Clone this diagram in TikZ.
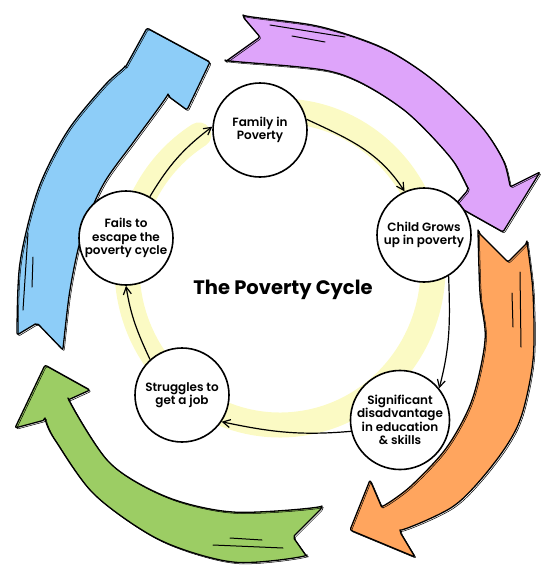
\documentclass[tikz,border=0pt]{standalone}
\usepackage{fontspec}
\setmainfont{Poppins}
\newfontfamily\stagefont{Poppins}[UprightFont={* SemiBold}]
\usetikzlibrary{arrows.meta,calc}

\definecolor{purplefill}{RGB}{222,164,250}
\definecolor{orangefill}{RGB}{255,165,94}
\definecolor{greenfill}{RGB}{156,205,100}
\definecolor{bluefill}{RGB}{141,205,248}
\definecolor{ringyellow}{RGB}{251,250,196}

\begin{document}
\begin{tikzpicture}[
  x=1pt, y=-1pt,
  stage/.style={
    circle,
    draw=black,
    line width=1.6pt,
    fill=white,
    minimum size=94pt,
    inner sep=0pt,
    align=center,
    font=\stagefont\fontsize{12}{13.5}\selectfont
  },
  band/.style={draw=black, line width=1.3pt, line join=round, rounded corners=2pt,
    postaction={draw=black, line width=.5pt, transform canvas={shift={(1.3pt,-1.3pt)}}}},
  streak/.style={draw=black, line width=1pt, line cap=round},
  ring/.style={draw=ringyellow, line width=25pt, line cap=round},
  flow/.style={-{Straight Barb[length=2.6mm, width=2.8mm]}, draw=black, line width=1.2pt}
]
\useasboundingbox (0,0) rectangle (554,582);

\coordinate (ring-centre) at (280,268);
\draw[ring] ($(ring-centre)+(-95:153 and 157)$) arc[start angle=-95, end angle=238, x radius=153, y radius=157];

\draw[band, fill=purplefill]
  plot[smooth] coordinates {(243,17) (317,26) (383,48) (433,80) (480,125) (503,160) (510,187)}
  -- (540,172) -- (503,232) -- (455,205)
  -- plot[smooth] coordinates {(468,190) (450,157) (400,107) (333,72) (225,62)}
  -- (260,37) -- cycle;
\draw[band, fill=orangefill]
  plot[smooth] coordinates {(527,243) (533,293) (533,360) (520,420) (495,462) (455,505) (400,532)}
  -- (415,557) -- (350,530) -- (370,480)
  -- plot[smooth] coordinates {(382,508) (412,485) (447,447) (472,400) (485,340) (480,293) (478,232)}
  -- (508,262) -- cycle;
\draw[band, fill=greenfill]
  plot[smooth] coordinates {(307,557) (233,562) (160,540) (95,495) (55,440) (45,420)}
  -- (15,428) -- (45,365) -- (90,390)
  -- plot[smooth] coordinates {(68,400) (110,463) (167,497) (233,512) (322,508)}
  -- (293,537) -- cycle;
\draw[band, fill=bluefill]
  plot[smooth] coordinates {(17,335) (20,263) (38,190) (67,132) (105,85) (125,68)}
  -- (147,28) -- (210,62) -- (187,110)
  -- plot[smooth] coordinates {(168,96) (135,140) (103,185) (82,235) (70,290) (63,350)}
  -- (37,323) -- cycle;

\draw[streak] (270,25) -- (345,37);
\draw[streak] (292,36) -- (325,42);
\draw[streak] (520,272) -- (521,347);
\draw[streak] (512,293) -- (513,327);
\draw[streak] (230,538) -- (262,540);
\draw[streak] (213,545) -- (283,548);
\draw[streak] (28,233) -- (23,310);
\draw[streak] (33,257) -- (32,287);

\node[stage] (family) at (260,130) {Family in\\Poverty};
\node[stage] (child) at (424,235) {Child Grows\\up in poverty};
\node[stage] (disadvantage) at (400,420) {Significant\\disadvantage\\in education\\\& skills};
\node[stage] (job) at (182,395) {Struggles to\\get a job};
\node[stage] (fails) at (126,238) {Fails to\\escape the\\poverty cycle};

\draw[flow] (family.13) to[out=-25, in=123] (child.114);
\draw[flow] (child.-59) to[out=-88, in=75] (disadvantage.39);
\draw[flow] (disadvantage.193) to[out=185, in=-12] (job.-34);
\draw[flow] (job.132) to[out=115, in=-81] (fails.-90);
\draw[flow] (fails.60) to[out=59, in=217] (family.176);

\node[font=\bfseries\fontsize{19.5}{22}\selectfont] (title) at (283,290) {The Poverty Cycle};
\end{tikzpicture}
\end{document}
